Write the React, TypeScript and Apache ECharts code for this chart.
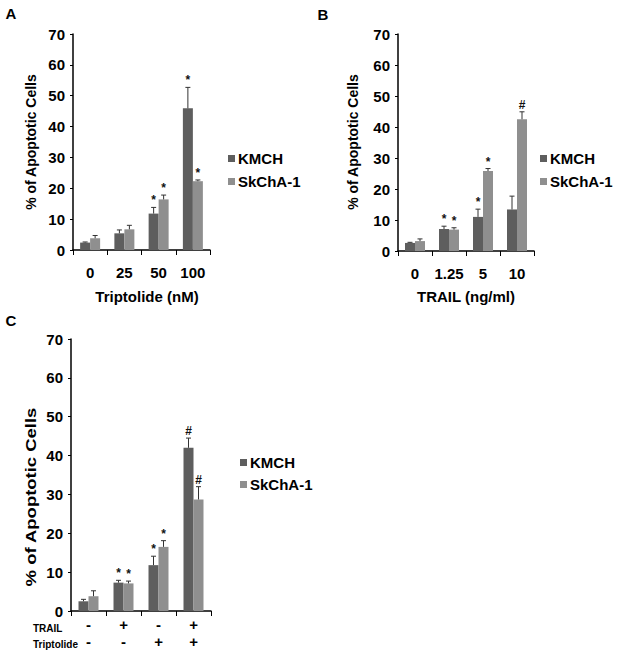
import React, { useEffect, useRef } from "react";
import * as echarts from "echarts";

const seriesNames = ["KMCH", "SkChA-1"];
const yTicks = [0, 10, 20, 30, 40, 50, 60, 70];

// Panel A: Triptolide (nM)
const catsA = ["0", "25", "50", "100"];
const kmchA = [2.4, 5.4, 11.8, 45.9];
const kmchAErr = [0.2, 1.1, 2.0, 6.8];
const skchaA = [3.8, 6.7, 16.4, 22.3];
const skchaAErr = [0.9, 1.3, 1.4, 0.4];
const kmchAMarks = ["", "", "*", "*"];
const skchaAMarks = ["", "", "*", "*"];

// Panel B: TRAIL (ng/ml)
const catsB = ["0", "1.25", "5", "10"];
const kmchB = [2.6, 7.1, 11.0, 13.4];
const kmchBErr = [0.2, 0.9, 2.5, 4.3];
const skchaB = [3.2, 6.9, 25.8, 42.5];
const skchaBErr = [0.7, 0.6, 0.8, 2.4];
const kmchBMarks = ["", "*", "*", ""];
const skchaBMarks = ["", "*", "*", "#"];

// Panel C: TRAIL / Triptolide combinations
const trailSigns = ["-", "+", "-", "+"];
const triptolideSigns = ["-", "-", "+", "+"];
const kmchC = [2.5, 7.3, 11.8, 42.0];
const kmchCErr = [0.5, 0.6, 2.3, 2.5];
const skchaC = [3.8, 7.1, 16.5, 28.7];
const skchaCErr = [1.4, 0.6, 1.6, 3.3];
const kmchCMarks = ["", "*", "*", "#"];
const skchaCMarks = ["", "*", "*", "#"];

const catsC = trailSigns.map((t, i) => t + "\n" + triptolideSigns[i]);

const FONT = "Arial, 'Liberation Sans', sans-serif";
const KMCH_COLOR = "#5e5e5e";
const SKCHA_COLOR = "#8f8f8f";

function makeRender(offset: number, marks: string[]) {
  return (params: any, api: any) => {
    const idx = api.value(0);
    const mean = api.value(1);
    const err = api.value(2);
    const base = api.coord([idx, mean]);
    const top = api.coord([idx, mean + err]);
    const x = base[0] + offset;
    const children: any[] = [
      {
        type: "line",
        shape: { x1: x, y1: base[1], x2: x, y2: top[1] },
        style: { stroke: "#333", lineWidth: 1 },
      },
      {
        type: "line",
        shape: { x1: x - 2.5, y1: top[1], x2: x + 2.5, y2: top[1] },
        style: { stroke: "#333", lineWidth: 1 },
      },
    ];
    if (marks[idx]) {
      children.push({
        type: "text",
        style: {
          text: marks[idx],
          x: x,
          y: top[1] - 1,
          align: "center",
          verticalAlign: "bottom",
          font: `bold 12px ${FONT}`,
          fill: "#111",
        },
      });
    }
    return { type: "group", children };
  };
}

function panelSeries(
  gi: number,
  k: number[],
  kErr: number[],
  s: number[],
  sErr: number[],
  kMarks: string[],
  sMarks: string[]
) {
  return [
    {
      name: seriesNames[0],
      type: "bar",
      xAxisIndex: gi,
      yAxisIndex: gi,
      data: k,
      barWidth: 10,
      barGap: "0%",
      itemStyle: { color: KMCH_COLOR },
    },
    {
      name: seriesNames[1],
      type: "bar",
      xAxisIndex: gi,
      yAxisIndex: gi,
      data: s,
      barWidth: 10,
      barGap: "0%",
      itemStyle: { color: SKCHA_COLOR },
    },
    {
      name: "err-k-" + gi,
      type: "custom",
      xAxisIndex: gi,
      yAxisIndex: gi,
      z: 5,
      renderItem: makeRender(-5, kMarks),
      encode: { x: 0, y: 1 },
      data: k.map((v, i) => [i, v, kErr[i]]),
    },
    {
      name: "err-s-" + gi,
      type: "custom",
      xAxisIndex: gi,
      yAxisIndex: gi,
      z: 5,
      renderItem: makeRender(5, sMarks),
      encode: { x: 0, y: 1 },
      data: s.map((v, i) => [i, v, sErr[i]]),
    },
  ];
}

function xAxisDef(gi: number, cats: string[], multi: boolean) {
  return {
    type: "category",
    gridIndex: gi,
    data: cats,
    axisLine: { lineStyle: { color: "#000", width: 1.5 } },
    axisTick: { show: true, length: 5, lineStyle: { color: "#000", width: 1 } },
    axisLabel: multi
      ? {
          interval: 0,
          color: "#000",
          fontFamily: FONT,
          fontWeight: "bold",
          fontSize: 15,
          lineHeight: 17,
          margin: 5,
        }
      : {
          interval: 0,
          color: "#000",
          fontFamily: FONT,
          fontWeight: "bold",
          fontSize: 15,
          margin: 15,
        },
  };
}

function yAxisDef(gi: number) {
  return {
    type: "value",
    gridIndex: gi,
    min: yTicks[0],
    max: yTicks[yTicks.length - 1],
    interval: 10,
    splitLine: { show: false },
    axisLine: { show: true, lineStyle: { color: "#000", width: 1.5 } },
    axisTick: { show: true, length: 3, lineStyle: { color: "#000" } },
    axisLabel: {
      color: "#000",
      fontFamily: FONT,
      fontWeight: "bold",
      fontSize: 15,
      margin: 8,
    },
  };
}

function legendDef(left: number, top: number, gap: number) {
  return {
    left,
    top,
    orient: "vertical",
    padding: 0,
    icon: "rect",
    itemWidth: 7,
    itemHeight: 7,
    itemGap: gap,
    selectedMode: false,
    data: seriesNames,
    textStyle: {
      color: "#000",
      fontFamily: FONT,
      fontWeight: "bold",
      fontSize: 15,
      padding: [0, 0, 0, -2],
    },
  };
}

function txt(text: string, x: number, y: number, size: number, extra: any = {}) {
  return {
    type: "text",
    x,
    y,
    ...extra,
    style: {
      text,
      font: `bold ${size}px ${FONT}`,
      fill: "#000",
      align: extra.align || "center",
      verticalAlign: "middle",
    },
  };
}

export default function App() {
  const ref = useRef<HTMLDivElement>(null);
  useEffect(() => {
    if (!ref.current) return;
    const chart = echarts.init(ref.current, null, { renderer: "svg" });
    const option: any = {
      animation: false,
      backgroundColor: "#fff",
      grid: [
        { left: 73, top: 34, width: 137, height: 216 },
        { left: 398, top: 34, width: 136, height: 217 },
        { left: 71, top: 339, width: 140, height: 272 },
      ],
      xAxis: [xAxisDef(0, catsA, false), xAxisDef(1, catsB, false), xAxisDef(2, catsC, true)],
      yAxis: [yAxisDef(0), yAxisDef(1), yAxisDef(2)],
      legend: [legendDef(228, 151, 8), legendDef(540, 151, 8), legendDef(240, 455, 7)],
      series: [
        ...panelSeries(0, kmchA, kmchAErr, skchaA, skchaAErr, kmchAMarks, skchaAMarks),
        ...panelSeries(1, kmchB, kmchBErr, skchaB, skchaBErr, kmchBMarks, skchaBMarks),
        ...panelSeries(2, kmchC, kmchCErr, skchaC, skchaCErr, kmchCMarks, skchaCMarks),
      ],
      graphic: [
        txt("A", 11, 13, 15),
        txt("B", 323, 14, 15),
        txt("C", 11, 320, 15),
        txt("% of Apoptotic Cells", 31, 142, 14, { rotation: Math.PI / 2 }),
        txt("% of Apoptotic Cells", 353, 142, 14, { rotation: Math.PI / 2 }),
        txt("% of Apoptotic Cells", 31, 497, 14, { rotation: Math.PI / 2, scaleX: 1.32 }),
        txt("Triptolide (nM)", 147, 296, 15),
        txt("TRAIL (ng/ml)", 466, 296, 15),
        txt("TRAIL", 33, 628, 10, { align: "left" }),
        txt("Triptolide", 33, 644, 10, { align: "left" }),
      ],
    };
    chart.setOption(option);
    return () => chart.dispose();
  }, []);
  return (
    <div
      ref={ref}
      style={{ position: "fixed", left: 0, top: 0, width: 621, height: 654 }}
    />
  );
}
